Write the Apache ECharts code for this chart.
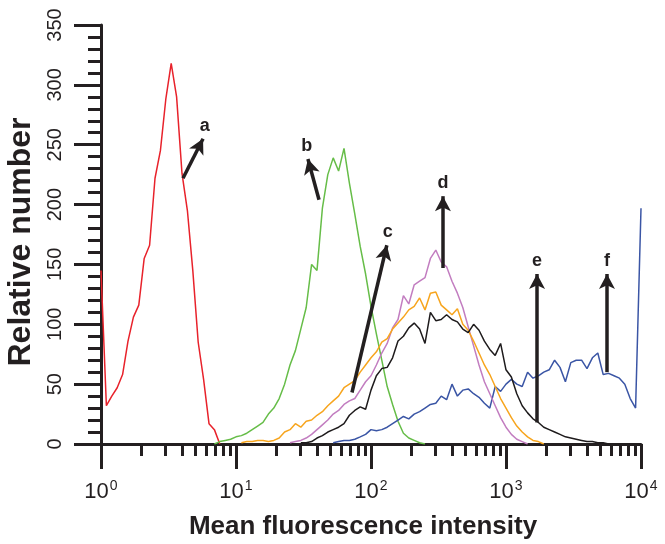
<!DOCTYPE html>
<html><head><meta charset="utf-8">
<script src="https://cdn.jsdelivr.net/npm/echarts@6/dist/echarts.min.js"></script>
<style>html,body{margin:0;padding:0;background:#fff}#c{width:665px;height:544px}</style>
</head><body><div id="c"></div>
<script>
// Log-spaced channel bins (MFI), 0.04 decade apart, 1 .. 10^4
const mfiBins = [1,1.096,1.202,1.318,1.445,1.585,1.738,1.905,2.089,2.291,2.512,2.754,3.02,3.311,3.631,3.981,4.365,4.786,5.248,5.754,6.31,6.918,7.586,8.318,9.12,
10,10.96,12.02,13.18,14.45,15.85,17.38,19.05,20.89,22.91,25.12,27.54,30.2,33.11,36.31,39.81,43.65,47.86,52.48,57.54,63.1,69.18,75.86,83.18,91.2,
100,109.6,120.2,131.8,144.5,158.5,173.8,190.5,208.9,229.1,251.2,275.4,302,331.1,363.1,398.1,436.5,478.6,524.8,575.4,631,691.8,758.6,831.8,912,
1000,1096,1202,1318,1445,1585,1738,1905,2089,2291,2512,2754,3020,3311,3631,3981,4365,4786,5248,5754,6310,6918,7586,8318,9120,10000];

// Histogram counts per curve, starting at the given bin index
const redStart = 0;
const redCounts = [145,32,40,47,58,86,106,116,155,166,222,245,288,318,290,226,195,145,85,54,17,12,0];
const greenStart = 21;
const greenCounts = [0,2,3,4,6,7,9,12,15,18,25,30,38,50,66,78,96,114,150,145,197,225,239,228,247,218,192,165,142,115,92,70,48,33,19,9,5,3,1,0];
const orangeStart = 26;
const orangeCounts = [1,2,2,3,3,2,3,5,10,12,17,14,19,20,24,27,32,36,40,47,50,53,60,66,72,77,85,88,96,101,106,112,115,122,112,126,127,116,112,108,113,100,95,86,76,66,58,48,38,30,22,15,10,6,3,2,0];
const purpleStart = 35;
const purpleCounts = [1,2,3,5,8,12,16,20,25,28,33,36,38,45,52,57,66,76,84,97,104,124,117,133,136,139,155,162,152,148,136,126,114,98,82,66,52,42,32,22,14,8,4,2,0];
const blackStart = 37;
const blackCounts = [1,1,2,5,7,10,12,14,17,24,28,31,29,45,57,63,64,72,86,90,97,101,96,84,110,103,104,108,104,102,96,93,100,95,86,79,74,84,62,56,42,32,26,21,18,14,12,10,8,6,5,4,3,2,2,1,1,0];
const blueStart = 43;
const blueCounts = [1,2,3,3,4,6,8,12,11,12,14,17,20,23,21,25,27,30,33,34,40,37,50,40,45,46,42,39,34,30,48,44,50,54,50,48,60,55,57,60,62,70,64,52,68,70,70,63,72,76,58,59,57,55,50,38,30,197];

const curveColors = {a:'#e8222b', b:'#66bd48', c:'#f7a51e', d:'#c27dc0', e:'#1e1b1c', f:'#3a55a5'};

// Arrow annotations (data coordinates: MFI, count)
const arrowLabels = ['a','b','c','d','e','f'];
const arrowFrom = [[4.05,222],[41.2,204],[72.3,43],[341,147],[1698,18],[5598,60]];
const arrowTo = [[5.7,255],[34.1,238],[131,166],[341,207],[1698,142],[5598,142]];

const xTickExp = {1:'0',10:'1',100:'2',1000:'3',10000:'4'};
const xMinorTicks = [2,3,4,5,6,7,8,9,20,30,40,50,60,70,80,90,200,300,400,500,600,700,800,900,2000,3000,4000,5000,6000,7000,8000,9000];

const ink = '#231f20';
const font = '"Liberation Sans", Arial, Helvetica, sans-serif';

function toPairs(start, counts){ return counts.map((v,i)=>[mfiBins[start+i], v]); }
const curves = [
  {n:'a', s:redStart, c:redCounts},
  {n:'b', s:greenStart, c:greenCounts},
  {n:'f', s:blueStart, c:blueCounts},
  {n:'d', s:purpleStart, c:purpleCounts},
  {n:'c', s:orangeStart, c:orangeCounts},
  {n:'e', s:blackStart, c:blackCounts}
];

const series = curves.map(cv => ({
  type:'line', name:cv.n, xAxisIndex:0, yAxisIndex:0,
  data: toPairs(cv.s, cv.c), showSymbol:false, symbol:'none',
  lineStyle:{color:curveColors[cv.n], width:1.5}, silent:true, z:3
}));

series.push({
  type:'line', xAxisIndex:0, yAxisIndex:0, data:[], silent:true, z:5,
  markLine:{
    silent:true, symbol:['none','arrow'], symbolSize:[12,15], precision:4,
    lineStyle:{color:ink, width:3.5, type:'solid'},
    label:{show:true, position:'end', distance:4, color:ink, fontSize:18, fontWeight:'bold', fontFamily:font,
      formatter: p => p.name},
    data: arrowLabels.map((l,i)=>[{name:l, coord:arrowFrom[i]},{coord:arrowTo[i]}])
  }
});

const chart = echarts.init(document.getElementById('c'), null, {renderer:'canvas'});
chart.setOption({
  animation:false,
  backgroundColor:'#fff',
  grid:{left:101, right:24, top:25, bottom:100, containLabel:false, outerBoundsMode:'none'},
  xAxis:[{
    type:'log', logBase:10, min:1, max:10000, position:'bottom',
    axisLine:{show:true, onZero:false, lineStyle:{color:ink, width:3}},
    axisTick:{show:true, inside:false, length:25, lineStyle:{color:ink, width:3}},
    splitLine:{show:false}, minorTick:{show:false},
    axisLabel:{show:true, margin:35, color:ink, fontFamily:font,
      formatter: v => '{b|10}{s|' + xTickExp[v] + '}',
      rich:{b:{fontSize:22, fontFamily:font, color:ink, lineHeight:24, verticalAlign:'bottom'},
            s:{fontSize:14, fontFamily:font, color:ink, lineHeight:24, verticalAlign:'top', padding:[0,0,0,1]}}},
    name:'Mean fluorescence intensity', nameLocation:'middle', nameGap:70,
    nameTextStyle:{fontSize:26, fontWeight:'bold', color:ink, fontFamily:font, padding:[0,16,0,0]}
  },{
    type:'log', logBase:10, min:1, max:10000, position:'bottom', offset:0,
    axisLine:{show:false},
    axisTick:{show:true, inside:false, length:12, lineStyle:{color:ink, width:3}, customValues:xMinorTicks},
    axisLabel:{show:false}, splitLine:{show:false}
  }],
  yAxis:{
    type:'value', min:0, max:350, interval:50,
    axisLine:{show:true, lineStyle:{color:ink, width:3}},
    axisTick:{show:true, length:27, lineStyle:{color:ink, width:3}},
    minorTick:{show:true, splitNumber:5, length:13, lineStyle:{color:ink, width:3}},
    splitLine:{show:false},
    axisLabel:{rotate:90, margin:36, color:ink, fontSize:20, fontFamily:font},
    name:'Relative number', nameLocation:'middle', nameGap:64, nameRotate:90,
    nameTextStyle:{fontSize:32, fontWeight:'bold', color:ink, fontFamily:font, padding:[0,15,0,0]}
  },
  series: series
});
</script>
</body></html>
